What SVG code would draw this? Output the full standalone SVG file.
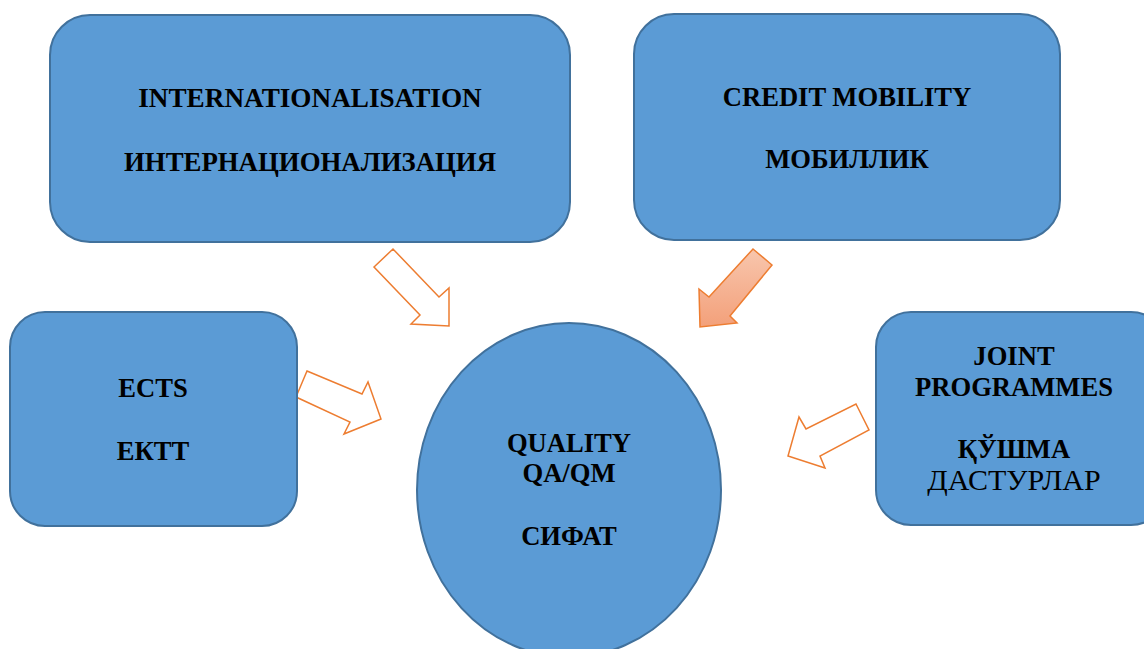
<svg xmlns="http://www.w3.org/2000/svg" width="1144" height="649" viewBox="0 0 1144 649">
<style>
.box{fill:#5b9bd5;stroke:#41719c;stroke-width:2}
.t{font-family:"Liberation Serif","Times New Roman",serif;font-size:26.6px;font-weight:bold;fill:#000;text-anchor:middle}
.r{font-weight:normal;font-size:30px}
.ar{fill:#fff;stroke:#ed7d31;stroke-width:1.5;stroke-linejoin:miter}
</style>
<defs>
<linearGradient id="g" x1="0" y1="0" x2="0" y2="1">
<stop offset="0" stop-color="#f8c6ad"/>
<stop offset="1" stop-color="#f3a07a"/>
</linearGradient>
</defs>
<rect width="1144" height="649" fill="#fff"/>
<g id="connectors">
<polygon class="ar" points="374,267 393,249 439,297 449,288 449,326 411,324 420,315"/>
<polygon fill="url(#g)" stroke="#ed7d31" stroke-width="1.5" points="753,249 772,265 730,316 737,323 700,327 699,289 709,297"/>
<polygon class="ar" points="307,371 362,394 368,382 381,419 344,434 350,422 296,397"/>
<polygon class="ar" points="856,404 869,430 820,456 825,468 788,456 799,417 806,429"/>
</g>
<g id="internationalisation">
<rect class="box" x="50" y="15" width="520" height="227" rx="40"/>
<text class="t" x="310" y="107" style="font-size:27.2px">INTERNATIONALISATION</text>
<text class="t" x="310" y="171" style="font-size:26.8px">ИНТЕРНАЦИОНАЛИЗАЦИЯ</text>
</g>
<g id="credit-mobility">
<rect class="box" x="634" y="14" width="426" height="226" rx="40"/>
<text class="t" x="847" y="106">CREDIT MOBILITY</text>
<text class="t" x="847" y="168">МОБИЛЛИК</text>
</g>
<g id="ects">
<rect class="box" x="10" y="312" width="287" height="214" rx="35"/>
<text class="t" x="153" y="397">ECTS</text>
<text class="t" x="153" y="460">ЕКТТ</text>
</g>
<g id="joint-programmes">
<rect class="box" x="876" y="312" width="290" height="213" rx="35"/>
<text class="t" x="1014" y="365">JOINT</text>
<text class="t" x="1014" y="396">PROGRAMMES</text>
<text class="t" x="1014" y="458">ҚЎШМА</text>
<text class="t r" x="1014" y="490">ДАСТУРЛАР</text>
</g>
<g id="quality">
<ellipse class="box" cx="569" cy="490" rx="152" ry="167"/>
<text class="t" x="569" y="452">QUALITY</text>
<text class="t" x="569" y="482">QA/QM</text>
<text class="t" x="569" y="545">СИФАТ</text>
</g>
</svg>
